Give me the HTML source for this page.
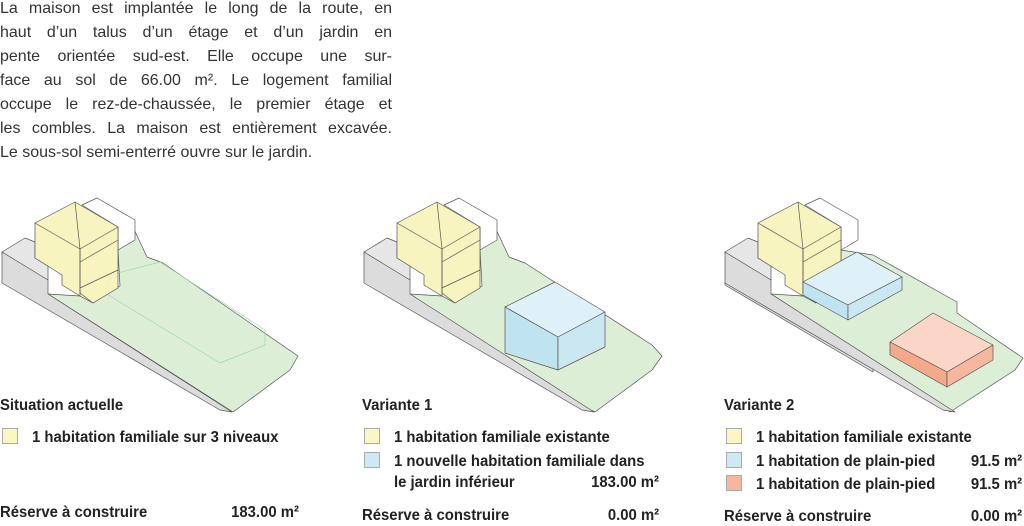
<!DOCTYPE html>
<html><head><meta charset="utf-8"><style>
body{margin:0;width:1024px;height:523px;background:#fff;position:relative;overflow:hidden;font-family:"Liberation Sans",sans-serif;color:#222}
.p{position:absolute;left:0;top:-3px;width:392px;font-size:16px;line-height:24px;color:#333}
.p div{text-align:justify;text-align-last:justify;height:24px;white-space:nowrap}
.p div.l{text-align-last:left}
.t{position:absolute;font-family:"Liberation Sans Narrow","Liberation Sans",sans-serif;font-weight:bold;font-size:16px;color:#222;white-space:nowrap;transform:scaleX(0.93);transform-origin:left top}
.r{position:absolute;font-weight:bold;font-size:16px;color:#222;white-space:nowrap;text-align:right;transform:scaleX(0.93);transform-origin:right top}
.sw{position:absolute;width:14px;height:14px;border:1px solid #aaa}
</style></head><body>
<div class="p">
<div>La maison est implantée le long de la route, en</div>
<div>haut d’un talus d’un étage et d’un jardin en</div>
<div>pente orientée sud-est. Elle occupe une sur-</div>
<div>face au sol de 66.00 m². Le logement familial</div>
<div>occupe le rez-de-chaussée, le premier étage et</div>
<div>les combles. La maison est entièrement excavée.</div>
<div class="l">Le sous-sol semi-enterré ouvre sur le jardin.</div>
</div>

<svg width="1024" height="523" style="position:absolute;left:0;top:0" stroke="#555" stroke-width="0.7" stroke-linejoin="round">
<defs>
<g id="house">
  <polygon points="82,205 97,198 135,220 135,240 118,250 118,227" fill="#fff"/>
  <polygon points="2,252 25,238 35,242 35,258 48,266 48,280 2,254" fill="#e6e6e6"/>
  <polygon points="2,252 48,280 48,294 232,412 220,410 2,283" fill="#dcdcdc"/>
  <polygon points="35,223 75,202 118,227 118,288 93,303 80,296 62,285 62,275 35,258" fill="#f6f3b8" fill-opacity="0.9"/>
  <polyline points="35,223 80,249 118,227" fill="none"/>
  <polyline points="75,202 80,249 80,296" fill="none"/>
  <polyline points="80,249 80,293 93,303" fill="none"/>
  <polyline points="80,262 118,240" fill="none"/>
  <polyline points="80,288 118,270" fill="none"/>
</g>
</defs>

<!-- Diagram 1 -->
<polygon points="133,227 147,257 163,263 298,356 290,370 233,412 48,294 80,296 93,303 120,286 118,250" fill="#dcefd6"/>
<polygon points="110,275 160,262 265,330 265,345 220,363 105,293" fill="none" stroke="#9fd8a8"/>
<use href="#house"/>

<!-- Diagram 2 -->
<g transform="translate(362,0)">
<polygon points="133,227 147,257 163,263 290,345 300,356 290,370 233,412 212,402 48,294 80,296 93,303 120,286 118,250" fill="#dcefd6"/>
<use href="#house"/>
</g>
<polygon points="505,307 555,282 605,312 558,337" fill="#dff1f8"/>
<polygon points="505,307 558,337 558,370 505,353" fill="#bfe3ef"/>
<polygon points="558,337 605,312 605,347 558,370" fill="#cbe8f2"/>

<!-- Diagram 3 -->
<g transform="translate(723,0)">
<polygon points="118,250 150,255 234,302 234,313 300,358 292,370 227,412 150,360 48,294 80,296 93,303 118,286" fill="#dcefd6"/>
<polygon points="2,283 48,294 150,360 150,372 2,285" fill="#dcdcdc"/>
<use href="#house"/>
</g>
<polygon points="803,282 857,252 902,277 848,305" fill="#dff1f8"/>
<polygon points="803,282 848,305 848,320 803,295" fill="#bfe3ef"/>
<polygon points="848,305 902,277 902,290 848,320" fill="#cbe8f2"/>
<polygon points="890,342 933,313 993,345 947,372" fill="#fbd5c6"/>
<polygon points="890,342 947,372 947,387 890,355" fill="#f4a98c"/>
<polygon points="947,372 993,345 993,360 947,387" fill="#f7b79e"/>
</svg>

<div class="t" style="left:0;top:397px">Situation actuelle</div>
<div class="sw" style="left:2px;top:428px;background:#fbf7c0"></div>
<div class="t" style="left:32px;top:429px">1 habitation familiale sur 3 niveaux</div>
<div class="t" style="left:0;top:504px">Réserve à construire</div>
<div class="r" style="right:725px;top:504px">183.00 m²</div>

<div class="t" style="left:362px;top:397px">Variante 1</div>
<div class="sw" style="left:364px;top:428px;background:#fbf7c0"></div>
<div class="t" style="left:394px;top:429px">1 habitation familiale existante</div>
<div class="sw" style="left:364px;top:452px;background:#cdeaf2"></div>
<div class="t" style="left:394px;top:453px">1 nouvelle habitation familiale dans</div>
<div class="t" style="left:394px;top:474px">le jardin inférieur</div>
<div class="r" style="right:365px;top:474px">183.00 m²</div>
<div class="t" style="left:362px;top:507px">Réserve à construire</div>
<div class="r" style="right:365px;top:507px">0.00 m²</div>

<div class="t" style="left:724px;top:397px">Variante 2</div>
<div class="sw" style="left:726px;top:428px;background:#fbf7c0"></div>
<div class="t" style="left:756px;top:429px">1 habitation familiale existante</div>
<div class="sw" style="left:726px;top:452px;background:#cdeaf2"></div>
<div class="t" style="left:756px;top:453px">1 habitation de plain-pied</div>
<div class="r" style="right:2px;top:453px">91.5 m²</div>
<div class="sw" style="left:726px;top:475px;background:#f7b79e"></div>
<div class="t" style="left:756px;top:476px">1 habitation de plain-pied</div>
<div class="r" style="right:2px;top:476px">91.5 m²</div>
<div class="t" style="left:724px;top:508px">Réserve à construire</div>
<div class="r" style="right:2px;top:508px">0.00 m²</div>
</body></html>
